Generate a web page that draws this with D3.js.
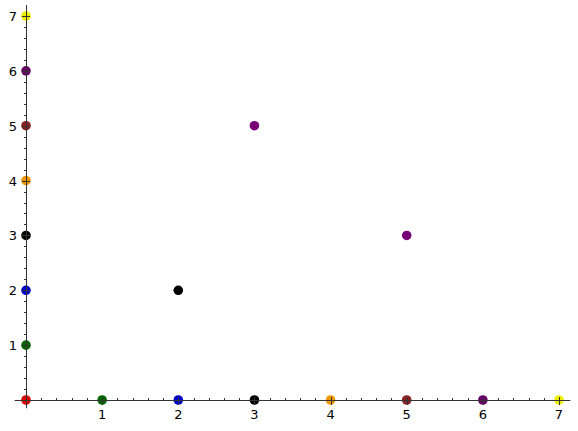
<!DOCTYPE html>
<html><head><meta charset="utf-8">
<script src="https://cdn.jsdelivr.net/npm/d3@7"></script>
<style>body{margin:0;background:#fff}svg{display:block}text{font-family:"DejaVu Sans";font-size:13px;fill:#000}</style>
</head><body><svg id="c" width="578" height="431"></svg>
<script>
const xs = [0,0,0,0,0,0,0,0,1,2,2,3,3,4,5,5,6,7];
const ys = [0,1,2,3,4,5,6,7,0,0,2,0,5,0,0,3,0,0];
const colors = ["#dd0000","#006600","#0000cc","#000000","#ee9900","#882222","#660066","#eeee00",
                "#006600","#0000cc","#000000","#000000","#770077","#ee9900","#882222","#770077","#660066","#eeee00"];
const xTicks = [1,2,3,4,5,6,7];
const yTicks = [1,2,3,4,5,6,7];

const svg = d3.select("#c");
const x = d3.scaleLinear().domain([0,7]).range([26,559]);
const y = d3.scaleLinear().domain([0,7]).range([400,16]);

svg.selectAll("circle").data(xs).join("circle")
  .attr("cx",(d,i)=>x(xs[i])).attr("cy",(d,i)=>y(ys[i])).attr("r",4.8)
  .attr("fill",(d,i)=>colors[i]);

const g = svg.append("g").attr("stroke","#333").attr("stroke-width",1);
// axis lines
g.append("line").attr("x1",x(-0.15)).attr("x2",x(7.15)).attr("y1",y(0)+0.5).attr("y2",y(0)+0.5);
g.append("line").attr("x1",x(0)+0.5).attr("x2",x(0)+0.5).attr("y1",y(-0.15)).attr("y2",y(7.2));

// minor ticks
const minorX = d3.range(0,7.01,0.2).filter(v=>Math.abs(v-Math.round(v))>1e-6);
const minorY = minorX;
g.selectAll(".mx").data(minorX).join("line")
  .attr("x1",d=>Math.round(x(d))+0.5).attr("x2",d=>Math.round(x(d))+0.5)
  .attr("y1",y(0)).attr("y2",y(0)-2);
g.selectAll(".my").data(minorY).join("line")
  .attr("y1",d=>Math.round(y(d))+0.5).attr("y2",d=>Math.round(y(d))+0.5)
  .attr("x1",x(0)+1).attr("x2",x(0)-2);
// major ticks
g.selectAll(".Mx").data([0].concat(xTicks)).join("line")
  .attr("x1",d=>Math.round(x(d))+0.5).attr("x2",d=>Math.round(x(d))+0.5)
  .attr("y1",y(0)-3).attr("y2",y(0)+5);
g.selectAll(".My").data([0].concat(yTicks)).join("line")
  .attr("y1",d=>Math.round(y(d))+0.5).attr("y2",d=>Math.round(y(d))+0.5)
  .attr("x1",x(0)-4).attr("x2",x(0)+4);

svg.selectAll(".xl").data(xTicks).join("text")
  .attr("x",d=>x(d)).attr("y",y(0)+19).attr("text-anchor","middle").text(d=>d);
svg.selectAll(".yl").data(yTicks).join("text")
  .attr("x",x(0)-9).attr("y",d=>y(d)+5).attr("text-anchor","end").text(d=>d);
</script></body></html>
